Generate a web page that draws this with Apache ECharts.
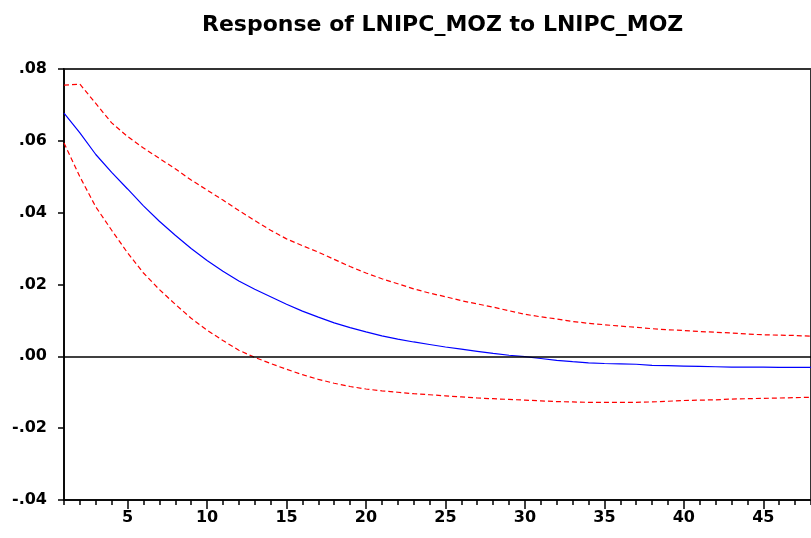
<!DOCTYPE html>
<html>

<head>
    <meta charset="utf-8">
    <title>ECharts</title>
    <script src="https://cdn.jsdelivr.net/npm/echarts/dist/echarts.min.js"></script>
</head>

<body style="margin:0;background:#fff;">
    <div id="main" style="width: 811px;height:538px;"></div>
    <script type="text/javascript">
        // periods on the x axis
        var periods = [1, 2, 3, 4, 5, 6, 7, 8, 9, 10, 11, 12, 13, 14, 15, 16, 17, 18, 19, 20, 21, 22, 23, 24,
            25, 26, 27, 28, 29, 30, 31, 32, 33, 34, 35, 36, 37, 38, 39, 40, 41, 42, 43, 44, 45, 46, 47, 48];

        // impulse response (blue)
        var response = [0.0677, 0.0622, 0.0562, 0.0512, 0.0466, 0.0419, 0.0376, 0.0337, 0.0300, 0.0267,
            0.0237, 0.0210, 0.0187, 0.0166, 0.0145, 0.0126, 0.0109, 0.0093, 0.0080, 0.0068,
            0.0057, 0.0048, 0.0040, 0.0033, 0.0026, 0.0020, 0.0014, 0.0008, 0.0003, -0.0001,
            -0.0006, -0.0011, -0.0015, -0.0018, -0.0020, -0.0021, -0.0022, -0.0025, -0.0026, -0.0027,
            -0.0028, -0.0029, -0.0030, -0.0030, -0.0030, -0.0031, -0.0031, -0.0031];

        // +/- 2 S.E. bands (red dashed)
        var upper = [0.0755, 0.0758, 0.0704, 0.0650, 0.0612, 0.0580, 0.0551, 0.0522, 0.0491, 0.0463,
            0.0435, 0.0406, 0.0378, 0.0351, 0.0327, 0.0308, 0.0290, 0.0270, 0.0250, 0.0232,
            0.0216, 0.0202, 0.0188, 0.0176, 0.0166, 0.0155, 0.0146, 0.0137, 0.0127, 0.0117,
            0.0110, 0.0104, 0.0097, 0.0092, 0.0088, 0.0084, 0.0081, 0.0077, 0.0074, 0.0072,
            0.0069, 0.0067, 0.0065, 0.0062, 0.0060, 0.0059, 0.0058, 0.0056];

        var lower = [0.0594, 0.0500, 0.0416, 0.0351, 0.0288, 0.0232, 0.0186, 0.0145, 0.0106, 0.0073,
            0.0044, 0.0017, -0.0003, -0.0020, -0.0036, -0.0051, -0.0064, -0.0075, -0.0084, -0.0091,
            -0.0096, -0.0100, -0.0104, -0.0107, -0.0110, -0.0113, -0.0116, -0.0118, -0.0120, -0.0122,
            -0.0124, -0.0126, -0.0127, -0.0128, -0.0128, -0.0128, -0.0128, -0.0127, -0.0125, -0.0123,
            -0.0122, -0.0121, -0.0119, -0.0118, -0.0117, -0.0116, -0.0115, -0.0114];

        var yTicks = { min: -0.04, max: 0.08, step: 0.02 };

        var myChart = echarts.init(document.getElementById('main'));
        var font = 'DejaVu Sans';

        function isMajor(idx) {
            return periods[idx] % 5 === 0;
        }

        var option = {
            animation: false,
            backgroundColor: '#ffffff',
            title: {
                text: 'Response of LNIPC_MOZ to LNIPC_MOZ',
                left: 197,
                top: 9,
                textStyle: {
                    fontFamily: font,
                    fontSize: 22,
                    fontWeight: 'bold',
                    color: '#000'
                }
            },
            grid: {
                left: 64,
                top: 69,
                width: 752,
                height: 431,
                show: true,
                borderColor: '#333',
                borderWidth: 2,
                backgroundColor: '#fff'
            },
            xAxis: [{
                type: 'category',
                data: periods,
                boundaryGap: false,
                position: 'bottom',
                axisLine: { onZero: false, lineStyle: { color: '#000', width: 1.5 } },
                axisTick: { interval: 0, length: 5, lineStyle: { color: '#000', width: 1.5 } },
                axisLabel: { show: false },
                splitLine: { show: false }
            }, {
                type: 'category',
                data: periods,
                boundaryGap: false,
                position: 'bottom',
                axisLine: { show: false, onZero: false },
                axisTick: { interval: isMajor, length: 9, lineStyle: { color: '#000', width: 1.5 } },
                axisLabel: {
                    interval: isMajor,
                    margin: 10,
                    fontFamily: font,
                    fontSize: 16,
                    fontWeight: 'bold',
                    color: '#000'
                },
                splitLine: { show: false }
            }],
            yAxis: {
                type: 'value',
                min: yTicks.min,
                max: yTicks.max,
                interval: yTicks.step,
                axisLine: { show: true, lineStyle: { color: '#000', width: 1.5 } },
                axisTick: { show: true, length: 6, lineStyle: { color: '#000', width: 1.5 } },
                axisLabel: {
                    margin: 17,
                    fontFamily: font,
                    fontSize: 16,
                    fontWeight: 'bold',
                    color: '#000',
                    formatter: function (v) {
                        return v.toFixed(2).replace('0.', '.');
                    }
                },
                splitLine: { show: false }
            },
            series: [{
                name: 'response',
                type: 'line',
                data: response,
                showSymbol: false,
                lineStyle: { color: '#0000ff', width: 1.2 },
                markLine: {
                    silent: true,
                    symbol: 'none',
                    label: { show: false },
                    lineStyle: { color: '#000', type: 'solid', width: 1.5 },
                    data: [{ yAxis: 0 }]
                }
            }, {
                name: 'upper',
                type: 'line',
                data: upper,
                showSymbol: false,
                lineStyle: { color: '#ff0000', width: 1.2, type: [5, 3] }
            }, {
                name: 'lower',
                type: 'line',
                data: lower,
                showSymbol: false,
                lineStyle: { color: '#ff0000', width: 1.2, type: [5, 3] }
            }]
        };
        myChart.setOption(option);
    </script>
</body>
</html>
